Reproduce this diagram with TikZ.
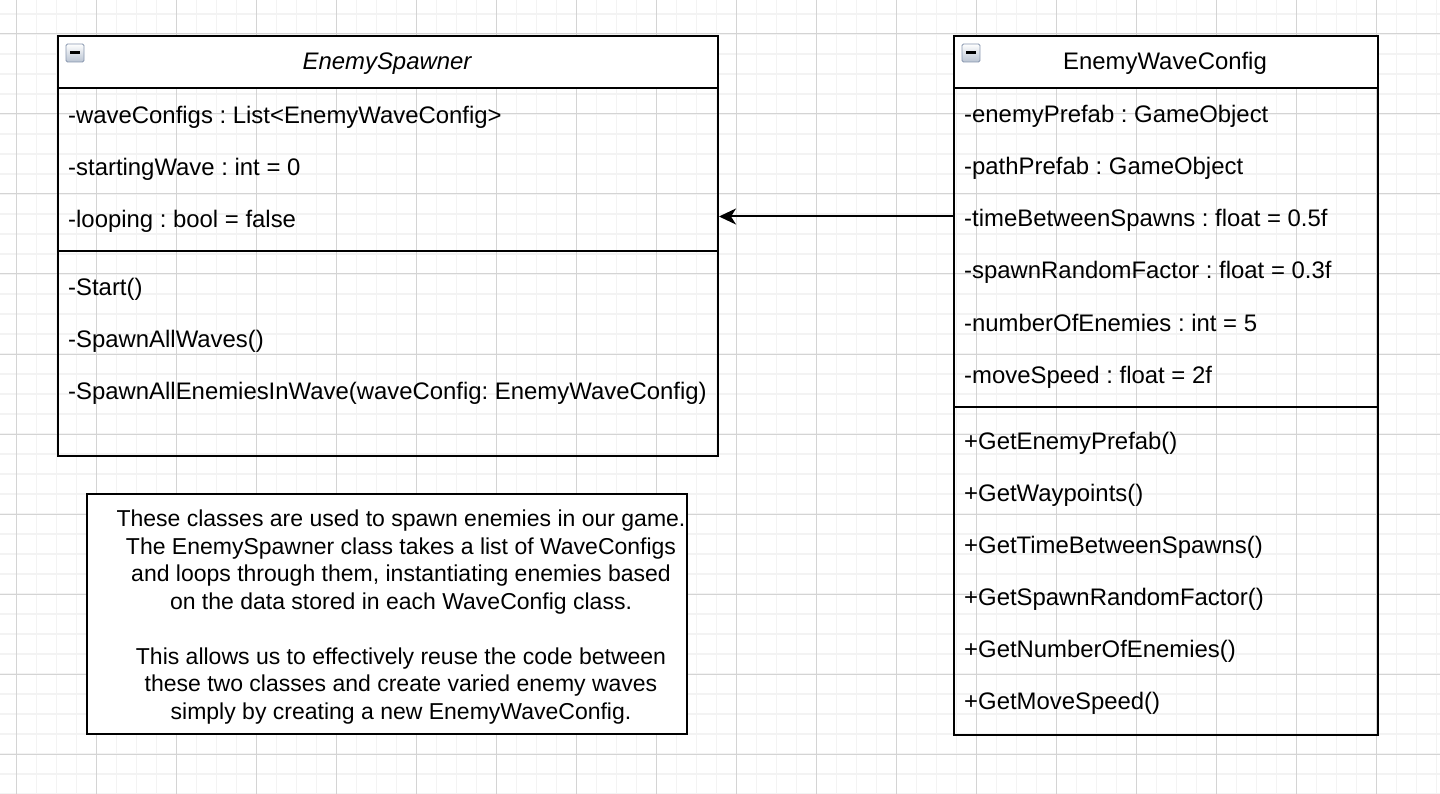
\documentclass[tikz,border=0pt]{standalone}
\usepackage{fontspec}
\setmainfont{Liberation Sans}
\usetikzlibrary{positioning,arrows.meta}
\frenchspacing

\definecolor{gridminor}{HTML}{F3F3F3}
\definecolor{gridmajor}{HTML}{D4D4D4}
\definecolor{iconedge}{HTML}{8796AE}
\definecolor{iconfill}{HTML}{B9C3D2}

\tikzset{
  umlhead/.style={draw, line width=2pt, fill=white, anchor=north west, inner sep=0pt},
  umlbody/.style={draw, line width=2pt, anchor=north west, inner sep=0pt},
  member/.style={anchor=base west, inner sep=0pt, font=\fontsize{23.9}{28}\selectfont},
  classname/.style={anchor=base, inner sep=0pt, font=\fontsize{23.9}{28}\selectfont},
  foldicon/.style={draw=iconedge, line width=0.8pt, rounded corners=1.5pt, minimum size=18pt,
    inner sep=0pt, top color=white, bottom color=iconfill},
  notebox/.style={draw, line width=2pt, fill=white, minimum width=600pt, minimum height=240pt,
    inner sep=0pt},
  notetext/.style={align=center, inner sep=0pt, font=\fontsize{23}{27.5}\selectfont},
  assoc/.style={line width=2pt, -{Stealth[length=17pt, width=16pt, inset=5pt]}}
}

\begin{document}
\begin{tikzpicture}[x=1pt,y=-1pt]
\useasboundingbox (0,0) rectangle (1440,794);

% background grid
\foreach \x in {16.5,36.5,...,1440} \draw[gridminor, line width=1.6pt] (\x,0) -- (\x,794);
\foreach \y in {14,34,...,794} \draw[gridminor, line width=1.6pt] (0,\y) -- (1440,\y);
\foreach \x in {16.5,96.5,...,1440} \draw[gridmajor, line width=1pt] (\x,0) -- (\x,794);
\foreach \y in {34,114,...,794} \draw[gridmajor, line width=1pt] (0,\y) -- (1440,\y);

% EnemySpawner
\node[umlbody, minimum width=660pt, minimum height=420pt] (spawnerbody) at (57,35) {};
\node[umlhead, minimum width=660pt, minimum height=52pt] (spawnerhead) at (57,35) {};
\node[classname] (spawnername) at (387,69.5) {\itshape EnemySpawner};
\node[foldicon] (spawnerfold) at (75,53) {};
\draw[line width=3pt] ([xshift=-5pt]spawnerfold.center) -- ([xshift=5pt]spawnerfold.center);
\node[member] (waveconfigs) at (68,124) {-waveConfigs : List<EnemyWaveConfig>};
\node[member] (startingwave) at (68,176) {-startingWave : int = 0};
\node[member] (looping) at (68,228) {-looping : bool = false};
\draw[line width=2pt] (57,251) -- (717,251);
\node[member] (start) at (68,295) {-Start()};
\node[member] (spawnallwaves) at (68,347) {-SpawnAllWaves()};
\node[member] (spawnallenemies) at (68,399) {-SpawnAllEnemiesInWave(waveConfig: EnemyWaveConfig)};

% EnemyWaveConfig
\node[umlbody, minimum width=424pt, minimum height=699pt] (wavebody) at (953,35) {};
\node[umlhead, minimum width=424pt, minimum height=52pt] (wavehead) at (953,35) {};
\node[classname] (wavename) at (1165,69.5) {EnemyWaveConfig};
\node[foldicon] (wavefold) at (971,53) {};
\draw[line width=3pt] ([xshift=-5pt]wavefold.center) -- ([xshift=5pt]wavefold.center);
\node[member] (enemyprefab) at (964,123) {-enemyPrefab : GameObject};
\node[member] (pathprefab) at (964,175) {-pathPrefab : GameObject};
\node[member] (timebetween) at (964,227) {-timeBetweenSpawns : float = 0.5f};
\node[member] (randomfactor) at (964,279) {-spawnRandomFactor : float = 0.3f};
\node[member] (numberenemies) at (964,331) {-numberOfEnemies : int = 5};
\node[member] (movespeed) at (964,383) {-moveSpeed : float = 2f};
\draw[line width=2pt] (953,407.3) -- (1377,407.3);
\node[member] (getprefab) at (964,449.5) {+GetEnemyPrefab()};
\node[member] (getwaypoints) at (964,501.5) {+GetWaypoints()};
\node[member] (gettime) at (964,553.5) {+GetTimeBetweenSpawns()};
\node[member] (getfactor) at (964,605.5) {+GetSpawnRandomFactor()};
\node[member] (getnumber) at (964,657.5) {+GetNumberOfEnemies()};
\node[member] (getspeed) at (964,709.5) {+GetMoveSpeed()};

% link
\coordinate (linkstart) at (953,216.5);
\draw[assoc] (linkstart) -- (spawnerbody.east |- linkstart);

% note
\node[notebox] (note) at (387,614) {};
\node[notetext] (notebody) at (401,617) {These classes are used to spawn enemies in our game.\\
The EnemySpawner class takes a list of WaveConfigs\\
and loops through them, instantiating enemies based\\
on the data stored in each WaveConfig class.\\[27.5pt]
This allows us to effectively reuse the code between\\
these two classes and create varied enemy waves\\
simply by creating a new EnemyWaveConfig.};
\end{tikzpicture}
\end{document}
